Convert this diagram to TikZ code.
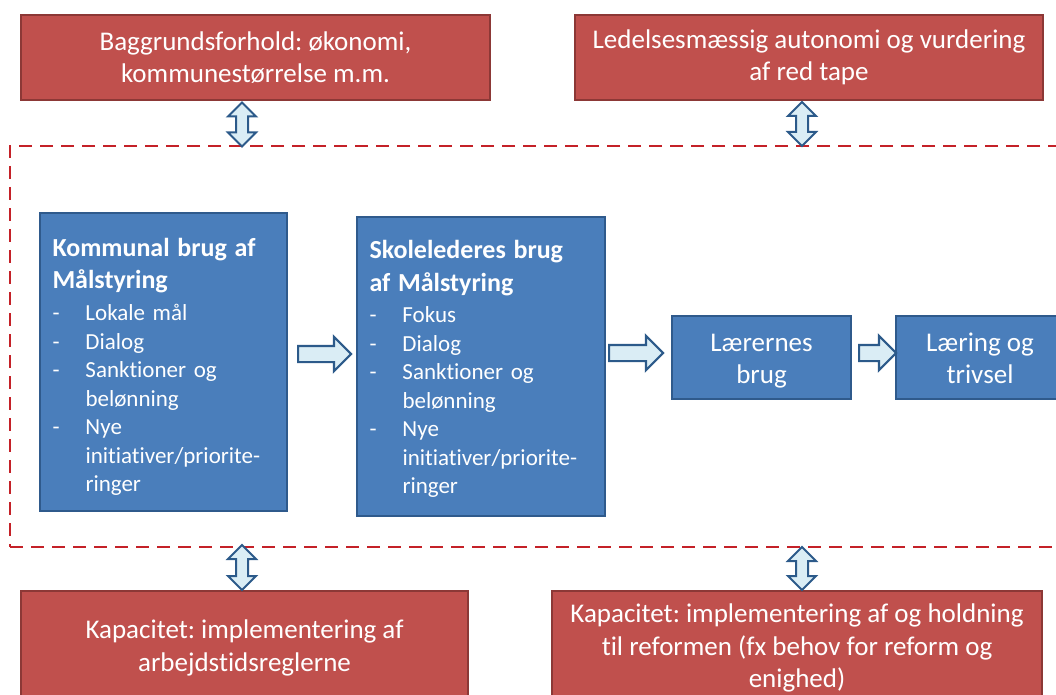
\documentclass[tikz,border=0pt]{standalone}
\usepackage{fontspec}
\setmainfont{Carlito}[Ligatures=NoCommon, RawFeature={-liga;-calt;-dlig}]
\usetikzlibrary{shapes.arrows}
\definecolor{redfill}{HTML}{C0504D}
\definecolor{redline}{HTML}{8C3836}
\definecolor{bluefill}{HTML}{4A7EBB}
\definecolor{blueline}{HTML}{2F5A8C}
\definecolor{arrowfill}{HTML}{DAEDF5}
\definecolor{arrowline}{HTML}{2C5A8A}
\definecolor{dashred}{HTML}{C42128}
\newcommand{\blitem}[1]{\makebox[33pt][l]{-}#1}
\newcommand{\blcont}[1]{\hspace*{33pt}#1}
\newcommand{\bltitle}[1]{{\fontsize{26}{32}\selectfont\bfseries #1}}
\newcommand{\toprule}[1]{\rule{0pt}{#1}}
\newcommand{\botrule}[1]{\rule[-#1]{0pt}{0pt}}
\frenchspacing
\begin{document}
\begin{tikzpicture}[x=1pt,y=-1pt,
  redbox/.style={draw=redline, fill=redfill, line width=2.5pt, text=white, align=center,
    inner sep=0pt, font=\fontsize{27}{32.5}\selectfont\frenchspacing},
  bluebox/.style={draw=blueline, fill=bluefill, line width=2pt, text=white, align=left,
    inner xsep=12.5pt, inner ysep=0pt, font=\fontsize{23}{28.5}\selectfont\frenchspacing},
  smallblue/.style={draw=blueline, fill=bluefill, line width=2pt, text=white, align=center,
    inner sep=0pt, minimum height=83pt, font=\fontsize{27}{32}\selectfont},
  frame/.style={draw=dashred, line width=2.2pt, dash pattern=on 13pt off 8pt, inner sep=0pt},
  harrow/.style={single arrow, draw=arrowline, fill=arrowfill, line width=2.2pt,
    inner xsep=0pt, inner ysep=7pt, single arrow head extend=9pt, anchor=tail},
  varrow/.style={double arrow, draw=arrowline, fill=arrowfill, line width=2pt,
    inner xsep=0pt, inner ysep=5pt, double arrow head extend=8pt, rotate=90}
]
\useasboundingbox (0,0) rectangle (1056,695);
\clip (0,0) rectangle (1056,695);

% dashed frame
\node[frame, minimum width=1060pt, minimum height=401pt] (frame) at (540,346.5) {};

% red boxes
\node[redbox, minimum width=469pt, minimum height=85pt] (bg) at (255.5,57.5)
  {Baggrundsforhold: økonomi,\\kommunestørrelse m.m.};
\node[redbox, minimum width=468pt, minimum height=85pt] (led) at (809,57.5)
  {Ledelsesmæssig autonomi og vurdering\\af red tape};
\node[redbox, minimum width=447pt, minimum height=114pt] (kap1) at (244.5,648)
  {Kapacitet: implementering af\\arbejdstidsreglerne};
\node[redbox, minimum width=490pt, minimum height=114pt] (kap2) at (797,648)
  {Kapacitet: implementering af og holdning\\til reformen (fx behov for reform og\\enighed)};

% blue boxes
\node[bluebox, minimum width=247pt, minimum height=298pt, text width=222pt] (b1) at (163.5,362)
  {\toprule{32.5pt}\bltitle{Kommunal brug af}\\[3.5pt]\bltitle{Målstyring}\\[3.5pt]
   \blitem{Lokale mål}\\
   \blitem{Dialog}\\
   \blitem{Sanktioner og}\\
   \blcont{belønning}\\
   \blitem{Nye}\\
   \blcont{initiativer/priorite-}\\
   \blcont{ringer}\botrule{8.5pt}};
\node[bluebox, minimum width=248pt, minimum height=299pt, text width=223pt] (b2) at (481,366.5)
  {\toprule{27.5pt}\bltitle{Skolelederes brug}\\[4pt]\bltitle{af Målstyring}\\[3pt]
   \blitem{Fokus}\\
   \blitem{Dialog}\\
   \blitem{Sanktioner og}\\
   \blcont{belønning}\\
   \blitem{Nye}\\
   \blcont{initiativer/priorite-}\\
   \blcont{ringer}\botrule{8.5pt}};
\node[smallblue, minimum width=179pt] (b3) at (761.5,357.5)
  {\toprule{28.4pt}Lærernes\\brug\botrule{8pt}};
\node[smallblue, minimum width=168pt] (b4) at (980,357.5)
  {\toprule{28.4pt}Læring og\\trivsel\botrule{8pt}};

% horizontal block arrows
\node[harrow, minimum height=53pt] (a1) at (297,354) {};
\node[harrow, minimum height=54pt] (a2) at (608,353) {};
\node[harrow, minimum height=37pt] (a3) at (858,353) {};

% vertical double arrows
\node[varrow, minimum height=44pt] (d1) at (242,124.5) {};
\node[varrow, minimum height=44pt] (d2) at (802,124) {};
\node[varrow, minimum height=45pt] (d3) at (242,567.5) {};
\node[varrow, minimum height=43pt] (d4) at (802,568.5) {};
\end{tikzpicture}
\end{document}
